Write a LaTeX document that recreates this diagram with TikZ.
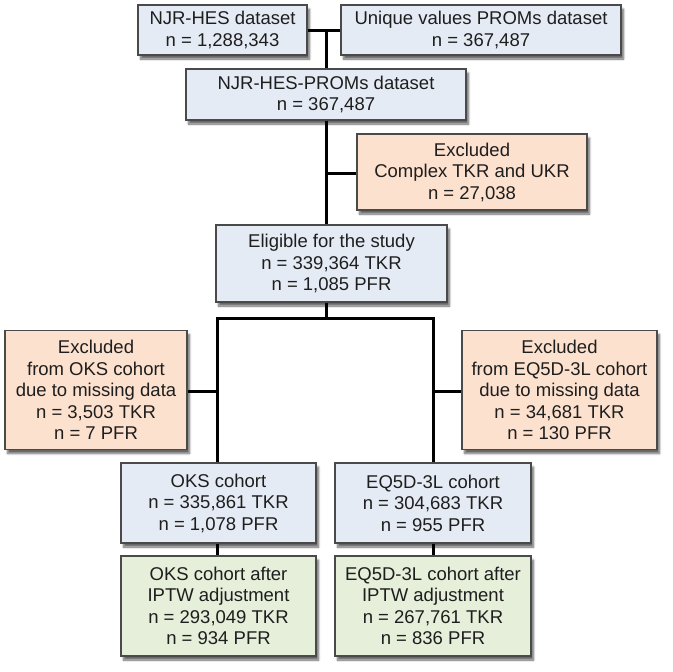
\documentclass[tikz,border=0pt]{standalone}
\usepackage{fontspec}
\setmainfont{Liberation Sans}
\usetikzlibrary{shadows.blur}
\definecolor{bluefill}{HTML}{E5EBF5}
\definecolor{salmonfill}{HTML}{FDE1CF}
\definecolor{greenfill}{HTML}{E5EFD9}
\definecolor{bordergray}{HTML}{4A4A4A}
\definecolor{textcol}{HTML}{1E1E1E}
\newcommand{\boxfont}{\fontsize{18.5}{21.5}\selectfont}
\tikzset{
  fbox/.style={draw=bordergray, line width=1.1pt, align=center, inner sep=0pt,
    font=\boxfont, text=textcol,
    blur shadow={shadow xshift=2.5pt, shadow yshift=-4pt, shadow blur steps=6, shadow opacity=60}},
  bluebox/.style={fbox, fill=bluefill},
  salmonbox/.style={fbox, fill=salmonfill},
  greenbox/.style={fbox, fill=greenfill},
  conn/.style={draw=black, line width=3pt}
}
\begin{document}
\begin{tikzpicture}[x=1pt, y=-1pt]
\useasboundingbox (0,0) rectangle (672,672);
\coordinate (jAB) at (326,30);
\coordinate (jE) at (326,318);
\coordinate (jL) at (217,318);
\coordinate (jR) at (433,318);
\coordinate (jF) at (217,391);
\coordinate (jG) at (433,391);
\coordinate (jD) at (326,173);

\node[bluebox, minimum width=169pt, minimum height=50pt] (A) at (222.5,30) {NJR-HES dataset\\n = 1,288,343};
\node[bluebox, minimum width=280pt, minimum height=50pt] (B) at (481,30) {Unique values PROMs dataset\\n = 367,487};
\node[bluebox, minimum width=280pt, minimum height=51pt] (C) at (326,94.5) {NJR-HES-PROMs dataset\\n = 367,487};
\node[salmonbox, minimum width=230pt, minimum height=76pt] (D) at (472,172) {Excluded\\Complex TKR and UKR\\n = 27,038};
\node[bluebox, minimum width=231pt, minimum height=77pt] (E) at (331.5,263.5) {Eligible for the study\\n = 339,364 TKR\\n = 1,085 PFR};
\node[salmonbox, minimum width=182pt, minimum height=119pt] (F) at (96,390) {Excluded\\from OKS cohort\\due to missing data\\n = 3,503 TKR\\n = 7 PFR};
\node[salmonbox, minimum width=195pt, minimum height=119pt] (G) at (559.5,390) {Excluded\\from EQ5D-3L cohort\\due to missing data\\n = 34,681 TKR\\n = 130 PFR};
\node[bluebox, minimum width=195pt, minimum height=80pt] (H) at (218.5,503) {OKS cohort\\n = 335,861 TKR\\n = 1,078 PFR};
\node[bluebox, minimum width=196pt, minimum height=80pt] (I) at (433,503) {EQ5D-3L cohort\\n = 304,683 TKR\\n = 955 PFR};
\node[greenbox, minimum width=195pt, minimum height=100pt] (J) at (218.5,606) {OKS cohort after\\IPTW adjustment\\n = 293,049 TKR\\n = 934 PFR};
\node[greenbox, minimum width=196pt, minimum height=100pt] (K) at (433,606) {EQ5D-3L cohort after\\IPTW adjustment\\n = 267,761 TKR\\n = 836 PFR};

\draw[conn] (A.east |- jAB) -- (B.west |- jAB);
\draw[conn] (jAB) -- (C.north -| jAB);
\draw[conn] (C.south -| jAB) -- (E.north -| jAB);
\draw[conn] (jD) -- (D.west |- jD);
\draw[conn] (E.south -| jE) -- (jE);
\draw[conn, line cap=rect] (jL) -- (jR);
\draw[conn] (jL) -- (H.north -| jL);
\draw[conn] (jR) -- (I.north -| jR);
\draw[conn] (jF) -- (F.east |- jF);
\draw[conn] (jG) -- (G.west |- jG);
\draw[conn] (H.south -| jL) -- (J.north -| jL);
\draw[conn] (I.south -| jR) -- (K.north -| jR);
\end{tikzpicture}
\end{document}
